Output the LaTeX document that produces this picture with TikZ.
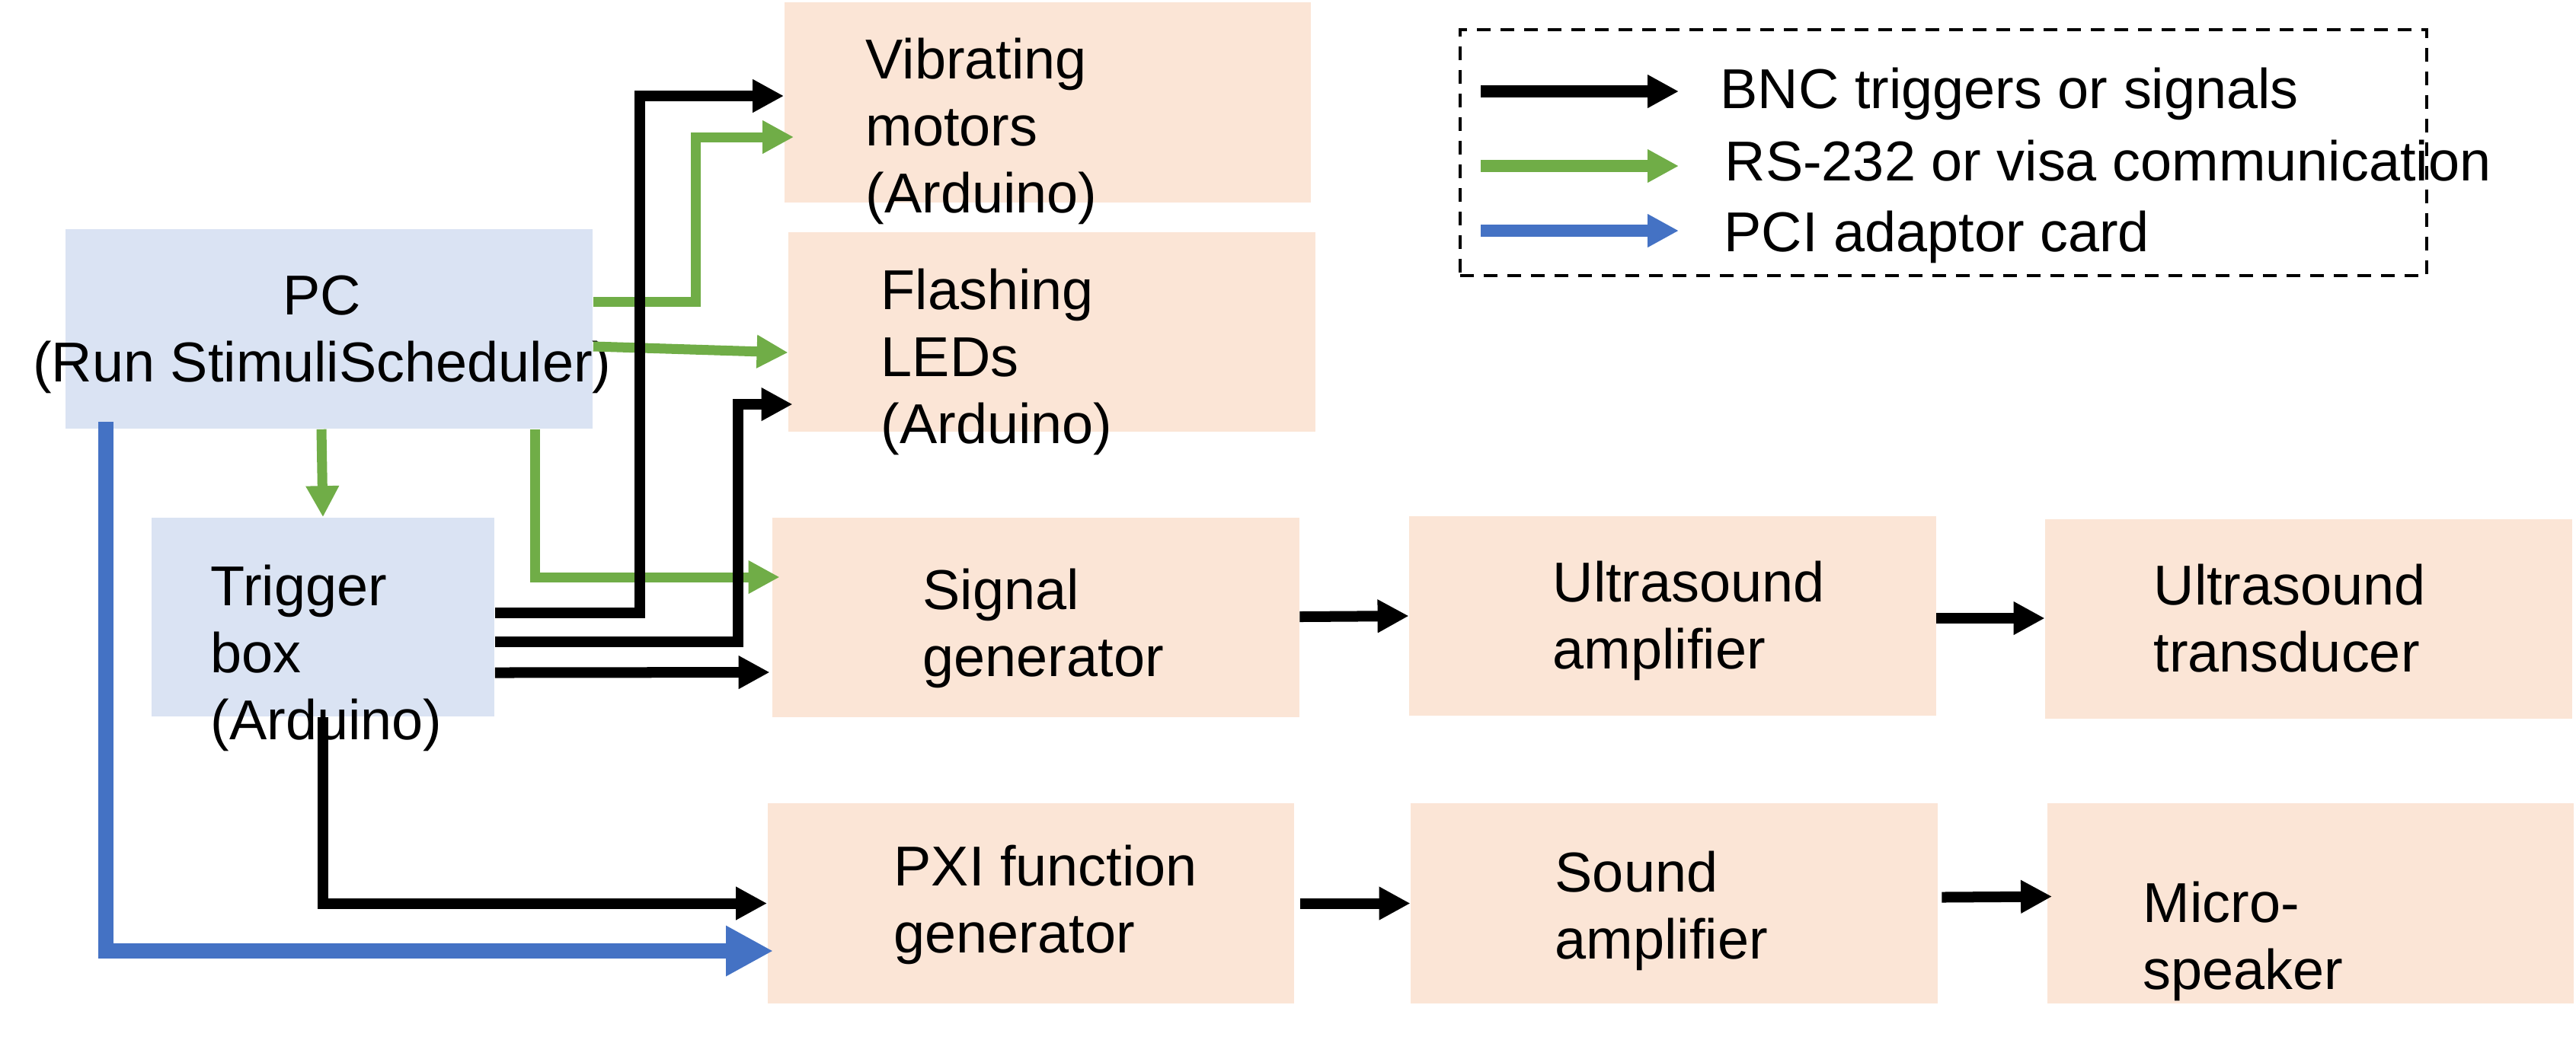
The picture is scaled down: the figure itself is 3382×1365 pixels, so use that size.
\documentclass[tikz,border=0pt]{standalone}
\usepackage{fontspec}
\setmainfont{Liberation Sans}
\usetikzlibrary{positioning,arrows.meta}
\definecolor{pcblue}{RGB}{218,227,243}
\definecolor{devpeach}{RGB}{251,229,214}
\definecolor{rsgreen}{RGB}{112,173,71}
\definecolor{pciblue}{RGB}{68,114,196}

\tikzset{
  unitbox/.style={inner sep=0pt, minimum width=6.91cm, minimum height=2.62cm},
  hostbox/.style={unitbox, fill=pcblue},
  devbox/.style={unitbox, fill=devpeach},
  lbl/.style={font=\fontsize{21pt}{25pt}\selectfont, align=left, inner sep=0pt, anchor=base west},
  bnc/.style={line width=0.14cm, -{Triangle[length=0.41cm,width=0.41cm]}},
  rs/.style={line width=0.13cm, rsgreen, -{Triangle[length=0.41cm,width=0.41cm]}},
  pci/.style={line width=0.2cm, pciblue, -{Triangle[length=0.62cm,width=0.62cm]}}
}

\begin{document}
\begin{tikzpicture}[x=0.01cm, y=-0.01cm]
  \useasboundingbox (0,0) rectangle (3382,1365);

  % boxes
  \node[hostbox, minimum width=6.92cm] (pc) at (432,432) {};
  \node[hostbox, minimum width=4.5cm, minimum height=2.61cm] (trig) at (424,810.5) {};
  \node[devbox] (vib) at (1375.5,134.5) {};
  \node[devbox] (flash) at (1381,436) {};
  \node[devbox] (sig) at (1360,811) {};
  \node[devbox] (pxi) at (1353.5,1186.5) {};
  \node[devbox] (uamp) at (2196,809) {};
  \node[devbox] (utrans) at (3031,813) {};
  \node[devbox] (samp) at (2198,1186.5) {};
  \node[devbox] (spk) at (3033.5,1186.5) {};

  % texts (placed at the baseline of their last line)
  \node[lbl, align=center, anchor=base] (pctxt) at (423,501) {PC\\(Run StimuliScheduler)};
  \node[lbl] (trigtxt) at (276,971) {Trigger\\box\\(Arduino)};
  \node[lbl] (vibtxt) at (1136,279) {Vibrating\\motors\\(Arduino)};
  \node[lbl] (flashtxt) at (1156,582) {Flashing\\LEDs\\(Arduino)};
  \node[lbl] (sigtxt) at (1211,888) {Signal\\generator};
  \node[lbl] (pxitxt) at (1173,1251) {PXI function\\generator};
  \node[lbl] (uamptxt) at (2038,878) {Ultrasound\\amplifier};
  \node[lbl] (utranstxt) at (2827,882) {Ultrasound\\transducer};
  \node[lbl] (samptxt) at (2041,1259) {Sound\\amplifier};
  \node[lbl] (spktxt) at (2813,1299) {Micro-\\speaker};

  % PC links
  \draw[rs] ([shift={(0,-36)}]pc.east) -- ++(135,0) |- ([shift={(13,45.5)}]vib.west);
  \draw[rs] ([shift={(0,23)}]pc.east) -- ([shift={(0,27)}]flash.west);
  \draw[rs] ([shift={(-10,0)}]pc.south) -- (trig.north);
  \draw[rs] ([shift={(270,0)}]pc.south) |- ([shift={(10,-53)}]sig.west);
  \draw[pci] ([shift={(54,-10)}]pc.south west) |- ([shift={(8,62.5)}]pxi.west);

  % trigger box links
  \draw[bnc] ([shift={(0,-6)}]trig.east) -- ++(190,0) |- ([shift={(0,-8.5)}]vib.west);
  \draw[bnc] ([shift={(0,32.5)}]trig.east) -- ++(319,0) |- ([shift={(6,95)}]flash.west);
  \draw[bnc] ([shift={(0,73)}]trig.east) -- ([shift={(-3,72)}]sig.west);
  \draw[bnc] (trig.south) |- (pxi.west);

  % signal chains
  \draw[bnc] ([shift={(0,-1)}]sig.east) -- (uamp.west);
  \draw[bnc] ([shift={(0,3)}]uamp.east) -- ([shift={(0,-1)}]utrans.west);
  \draw[bnc] ([shift={(7,0)}]pxi.east) -- (samp.west);
  \draw[bnc] ([shift={(5,-8)}]samp.east) -- ([shift={(7,-9)}]spk.west);

  % legend
  \node[draw, dash pattern=on 0.18cm off 0.13cm, line width=0.04cm,
        minimum width=12.69cm, minimum height=3.23cm] (legend) at (2551.5,200.5) {};
  \coordinate (kbnc) at (1944,120);
  \coordinate (krs) at (1944,218);
  \coordinate (kpci) at (1944,303);
  \draw[bnc, line width=0.16cm] (kbnc) -- ++(260,0);
  \draw[rs, line width=0.16cm] (krs) -- ++(260,0);
  \draw[rs, pciblue, line width=0.16cm] (kpci) -- ++(260,0);
  \node[lbl] (kbnctxt) at (2258,142) {BNC triggers or signals};
  \node[lbl] (krstxt) at (2264,237) {RS-232 or visa communication};
  \node[lbl] (kpcitxt) at (2263,330) {PCI adaptor card};
\end{tikzpicture}
\end{document}
